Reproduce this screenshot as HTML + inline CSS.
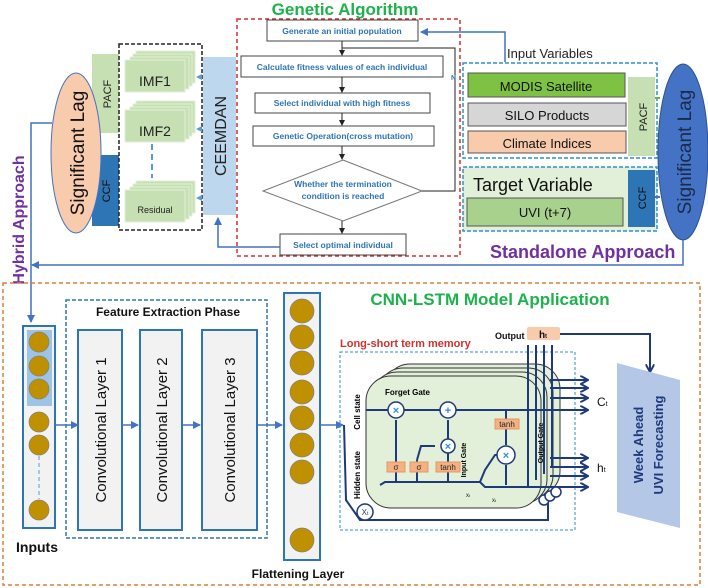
<!DOCTYPE html>
<html><head><meta charset="utf-8"><style>
html,body{margin:0;padding:0;background:#fff;}
svg{display:block;font-family:"Liberation Sans",sans-serif;}
</style></head><body>
<svg width="708" height="588" viewBox="0 0 708 588" xmlns="http://www.w3.org/2000/svg">
<defs>
<marker id="ab" markerWidth="8" markerHeight="8" refX="7" refY="4" orient="auto" markerUnits="userSpaceOnUse"><path d="M0,0 L8,4 L0,8 Z" fill="#4472c4"/></marker>
<marker id="ak" markerWidth="6" markerHeight="6" refX="5" refY="3" orient="auto" markerUnits="userSpaceOnUse"><path d="M0,0 L6,3 L0,6 Z" fill="#222"/></marker>
<marker id="an" markerWidth="9" markerHeight="9" refX="8" refY="4.5" orient="auto" markerUnits="userSpaceOnUse"><path d="M0,0 L8,4.5 L0,9" fill="none" stroke="#1f3a7a" stroke-width="2"/></marker>
</defs>

<!-- ===== TOP ===== -->
<text x="345" y="15" font-size="17" font-weight="bold" fill="#1db24b" text-anchor="middle">Genetic Algorithm</text>
<rect x="237" y="19" width="223" height="237" fill="none" stroke="#d0312d" stroke-width="1.5" stroke-dasharray="4,3"/>

<g font-size="8.5" font-weight="bold" fill="#2e75b6" text-anchor="middle">
<rect x="267" y="20" width="151" height="21" fill="#fff" stroke="#444"/>
<text x="342" y="34">Generate an initial population</text>
<rect x="241" y="56" width="202" height="21" fill="#fff" stroke="#444"/>
<text x="342" y="70">Calculate  fitness values of each individual</text>
<rect x="255" y="93" width="175" height="20" fill="#fff" stroke="#444"/>
<text x="342" y="106">Select  individual with  high fitness</text>
<rect x="253" y="126" width="181" height="20" fill="#fff" stroke="#444"/>
<text x="343" y="139">Genetic Operation(cross mutation)</text>
<polygon points="343,160 422,191 343,221 263,191" fill="#fff" stroke="#777"/>
<text x="343" y="187">Whether the termination</text>
<text x="343" y="199">condition is reached</text>
<rect x="280" y="234" width="126" height="21" fill="#fff" stroke="#444"/>
<text x="343" y="248">Select optimal individual</text>
</g>
<g stroke="#222" stroke-width="1" fill="none">
<line x1="342" y1="41" x2="342" y2="55" marker-end="url(#ak)"/>
<line x1="342" y1="77" x2="342" y2="92" marker-end="url(#ak)"/>
<line x1="342" y1="113" x2="342" y2="125" marker-end="url(#ak)"/>
<line x1="342" y1="146" x2="342" y2="159" marker-end="url(#ak)"/>
<line x1="342" y1="221" x2="342" y2="233" marker-end="url(#ak)"/>
<polyline points="422,191 455,191 455,48 342,48"/>
</g>
<text x="451" y="80" font-size="7" font-weight="bold" fill="#2e75b6">N</text>

<polyline points="505,62 505,32 421,32" fill="none" stroke="#4472c4" stroke-width="1.5" marker-end="url(#ab)"/>
<text x="507" y="58" font-size="13" fill="#222">Input Variables</text>

<rect x="463" y="63" width="194" height="95" fill="none" stroke="#2e8fd6" stroke-width="1.5" stroke-dasharray="4,2"/>
<rect x="468" y="73" width="157" height="24" fill="#7dc242" stroke="#555"/>
<text x="546" y="91" font-size="13" text-anchor="middle" fill="#111">MODIS Satellite</text>
<rect x="468" y="103" width="158" height="23" fill="#d6d6d6" stroke="#555"/>
<text x="547" y="120" font-size="13" text-anchor="middle" fill="#111">SILO Products</text>
<rect x="468" y="131" width="158" height="22" fill="#f8cbad" stroke="#555"/>
<text x="547" y="148" font-size="13" text-anchor="middle" fill="#111">Climate Indices</text>
<rect x="628" y="77" width="27" height="79" fill="#c6e0b4"/>
<text transform="translate(647,117) rotate(-90)" font-size="11" text-anchor="middle" fill="#222">PACF</text>

<rect x="463" y="167" width="194" height="64" fill="#e2f0d9" stroke="#2e8fd6" stroke-width="1.5" stroke-dasharray="4,2"/>
<text x="473" y="191" font-size="18" fill="#111">Target Variable</text>
<rect x="467" y="198" width="156" height="28" fill="#a9d18e" stroke="#555"/>
<text x="545" y="217" font-size="13" text-anchor="middle" fill="#111">UVI (t+7)</text>
<rect x="628" y="170" width="27" height="57" fill="#2e75b6"/>
<text transform="translate(646,198) rotate(-90)" font-size="11" text-anchor="middle" fill="#111">CCF</text>
<line x1="655" y1="98" x2="660" y2="98" stroke="#70ad47" stroke-width="2"/>
<line x1="655" y1="197" x2="660" y2="197" stroke="#4472c4" stroke-width="2"/>

<ellipse cx="683" cy="152" rx="25" ry="88" fill="#4472c4" stroke="#2f528f"/>
<text transform="translate(691,152) rotate(-90)" font-size="19" text-anchor="middle" fill="#1a2a4a">Significant Lag</text>
<text x="490" y="258" font-size="18" font-weight="bold" fill="#7030a0">Standalone Approach</text>
<polyline points="683,240 683,265 32,265" fill="none" stroke="#4472c4" stroke-width="1.5" marker-end="url(#ab)"/>

<text transform="translate(24,220) rotate(-90)" font-size="16" font-weight="bold" fill="#7030a0" text-anchor="middle">Hybrid Approach</text>
<polyline points="52,123 31,123 31,322" fill="none" stroke="#4472c4" stroke-width="1.5" marker-end="url(#ab)"/>
<rect x="92" y="54" width="27" height="79" fill="#c6e0b4"/>
<text transform="translate(111,94) rotate(-90)" font-size="11" text-anchor="middle" fill="#222">PACF</text>
<rect x="92" y="155" width="27" height="71" fill="#2e75b6"/>
<text transform="translate(110,191) rotate(-90)" font-size="11" text-anchor="middle" fill="#111">CCF</text>
<ellipse cx="76" cy="153" rx="25" ry="80" fill="#f8cbad" stroke="#4472c4"/>
<text transform="translate(84,153) rotate(-90)" font-size="19" text-anchor="middle" fill="#111">Significant Lag</text>

<rect x="119" y="44" width="83" height="186" fill="none" stroke="#222" stroke-width="1.5" stroke-dasharray="4,2"/>
<g fill="#c6e0b4" stroke="#e2efd9" stroke-width="1">
<rect x="136" y="51" width="59" height="32"/><rect x="133" y="54" width="59" height="32"/><rect x="130" y="57" width="59" height="32"/><rect x="125" y="60" width="60" height="32"/>
<rect x="136" y="101" width="59" height="32"/><rect x="133" y="104" width="59" height="32"/><rect x="130" y="107" width="59" height="32"/><rect x="125" y="110" width="60" height="32"/>
<rect x="136" y="181" width="59" height="32"/><rect x="133" y="184" width="59" height="32"/><rect x="130" y="187" width="59" height="32"/><rect x="125" y="190" width="60" height="32"/>
</g>
<text x="155" y="86" font-size="14" text-anchor="middle" fill="#222">IMF1</text>
<text x="155" y="136" font-size="14" text-anchor="middle" fill="#222">IMF2</text>
<text x="155" y="213" font-size="9" text-anchor="middle" fill="#222">Residual</text>
<line x1="152" y1="144" x2="152" y2="178" stroke="#5b9bd5" stroke-width="2" stroke-dasharray="6,4"/>

<rect x="203" y="57" width="33" height="158" fill="#bdd7ee"/>
<text transform="translate(226,136) rotate(-90)" font-size="16" text-anchor="middle" fill="#222">CEEMDAN</text>
<g fill="#5b9bd5"><path d="M196,77 l6,-3 v6z"/><path d="M196,129 l6,-3 v6z"/><path d="M196,198 l6,-3 v6z"/></g>
<polyline points="280,247 218,247 218,218" fill="none" stroke="#4472c4" stroke-width="1.5" marker-end="url(#ab)"/>

<!-- ===== BOTTOM ===== -->
<rect x="3" y="283" width="697" height="302" fill="none" stroke="#e07b39" stroke-width="1.5" stroke-dasharray="4,3"/>
<text x="490" y="305" font-size="17" font-weight="bold" fill="#1db24b" text-anchor="middle">CNN-LSTM Model Application</text>

<rect x="23" y="326" width="32" height="202" fill="#f2f2f2" stroke="#2e75b6" stroke-width="2"/>
<rect x="27" y="330" width="25" height="76" fill="#9dc3e6"/>
<g fill="#bf9000" stroke="#7f7f7f" stroke-width="0.7">
<circle cx="39" cy="342" r="10"/><circle cx="39" cy="366" r="10"/><circle cx="39" cy="389" r="10"/><circle cx="39" cy="422" r="10"/><circle cx="39" cy="445" r="10"/><circle cx="39" cy="510" r="10"/>
</g>
<line x1="39" y1="456" x2="39" y2="499" stroke="#5b9bd5" stroke-dasharray="4,3"/>
<text x="37" y="552" font-size="14" font-weight="bold" text-anchor="middle" fill="#111">Inputs</text>

<rect x="66" y="300" width="201" height="238" fill="none" stroke="#2e75b6" stroke-width="1.5" stroke-dasharray="4,2"/>
<text x="168" y="316" font-size="12" font-weight="bold" text-anchor="middle" fill="#111">Feature Extraction Phase</text>
<g fill="#f2f2f2" stroke="#2e75b6" stroke-width="2">
<rect x="78" y="330" width="44" height="200"/><rect x="140" y="330" width="42" height="200"/><rect x="202" y="330" width="55" height="200"/>
</g>
<g font-size="15" text-anchor="middle" fill="#111">
<text transform="translate(106,430) rotate(-90)">Convolutional Layer 1</text>
<text transform="translate(167,430) rotate(-90)">Convolutional Layer 2</text>
<text transform="translate(235,430) rotate(-90)">Convolutional Layer 3</text>
</g>

<rect x="284" y="293" width="36" height="267" fill="#f2f2f2" stroke="#2e75b6" stroke-width="2"/>
<g fill="#bf9000" stroke="#7f7f7f" stroke-width="0.7">
<circle cx="302" cy="311" r="12"/><circle cx="302" cy="337" r="12"/><circle cx="302" cy="363" r="12"/><circle cx="302" cy="392" r="12"/><circle cx="302" cy="418" r="12"/><circle cx="302" cy="445" r="12"/><circle cx="302" cy="472" r="12"/><circle cx="302" cy="540" r="12"/>
</g>
<text x="298" y="578" font-size="12" font-weight="bold" text-anchor="middle" fill="#111">Flattening Layer</text>

<g stroke="#4472c4" stroke-width="1.5" fill="none">
<line x1="55" y1="425" x2="78" y2="425" marker-end="url(#ab)"/>
<line x1="122" y1="425" x2="138" y2="425" marker-end="url(#ab)"/>
<line x1="182" y1="425" x2="200" y2="425" marker-end="url(#ab)"/>
<line x1="258" y1="425" x2="282" y2="425" marker-end="url(#ab)"/>
<line x1="320" y1="425" x2="343" y2="425" marker-end="url(#ab)"/>
</g>

<text x="340" y="347" font-size="11" font-weight="bold" fill="#d0312d">Long-short term memory</text>
<rect x="340" y="352" width="235" height="178" fill="none" stroke="#2e8fd6" stroke-width="1" stroke-dasharray="3,2"/>
<g fill="#e2efd9" stroke="#333" stroke-width="1">
<rect x="385" y="364" width="175" height="132" rx="25"/>
<rect x="378" y="368" width="175" height="132" rx="25"/>
<rect x="372" y="372" width="175" height="132" rx="25"/>
<rect x="366" y="376" width="175" height="132" rx="25"/>
</g>
<text transform="translate(360,412) rotate(-90)" font-size="8" font-weight="bold" text-anchor="middle">Cell state</text>
<text transform="translate(360,475) rotate(-90)" font-size="8" font-weight="bold" text-anchor="middle">Hidden state</text>
<g stroke="#1f3a7a" stroke-width="2" fill="none">
<line x1="366" y1="410" x2="550" y2="410"/>
<polyline points="380,485 385,482 480,482 485,487 550,487"/>
<line x1="396" y1="482" x2="396" y2="420"/>
<line x1="417" y1="482" x2="417" y2="460" /><polyline points="417,460 421,446 435,446"/>
<line x1="448" y1="482" x2="448" y2="452"/><line x1="448" y1="440" x2="448" y2="420"/>
<polyline points="480,482 485,470 495,455 505,455"/>
<line x1="506" y1="410" x2="506" y2="445"/>
<polyline points="506,465 506,485"/>
<line x1="528" y1="487" x2="528" y2="345"/><line x1="536" y1="480" x2="536" y2="345"/><line x1="544" y1="474" x2="544" y2="345"/><line x1="552" y1="468" x2="552" y2="345"/>
<polyline points="344,425 346,500 360,520 548,520 548,500"/>
</g>
<g stroke="#1f3a7a" stroke-width="2" fill="none" marker-end="url(#an)">
<line x1="550" y1="380" x2="588" y2="380"/><line x1="550" y1="388" x2="588" y2="388"/><line x1="550" y1="398" x2="588" y2="398"/><line x1="550" y1="410" x2="588" y2="410"/>
<line x1="550" y1="458" x2="588" y2="458"/><line x1="550" y1="467" x2="588" y2="467"/><line x1="550" y1="476" x2="588" y2="476"/><line x1="550" y1="487" x2="588" y2="487"/>
</g>
<g fill="#fff" stroke="#1f3a7a" stroke-width="1.5">
<circle cx="396" cy="410" r="8"/><circle cx="448" cy="410" r="8"/><circle cx="448" cy="446" r="7"/><circle cx="506" cy="455" r="9"/>
<circle cx="365" cy="512" r="8"/>
<circle cx="544" cy="500" r="5"/><circle cx="550" cy="496" r="5"/><circle cx="556" cy="492" r="5"/>
</g>
<g font-size="11" font-weight="bold" fill="#2e8fd6" text-anchor="middle">
<text x="396" y="414">×</text><text x="448" y="414">+</text><text x="448" y="450">×</text><text x="506" y="459">×</text>
</g>
<text x="365" y="515" font-size="8" text-anchor="middle" fill="#1f3a7a">X<tspan font-size="5">t</tspan></text>
<text x="385" y="395" font-size="8" font-weight="bold">Forget Gate</text>
<text transform="translate(466,460) rotate(-90)" font-size="7" font-weight="bold" text-anchor="middle">Input Gate</text>
<text transform="translate(543,443) rotate(-90)" font-size="7" font-weight="bold" text-anchor="middle">Output Gate</text>
<g fill="#f4b183" stroke="#e59866">
<rect x="387" y="462" width="18" height="10"/><rect x="410" y="462" width="18" height="10"/><rect x="436" y="462" width="24" height="10"/><rect x="495" y="419" width="24" height="10"/>
</g>
<g font-size="8" text-anchor="middle" fill="#222">
<text x="396" y="470">σ</text><text x="419" y="470">σ</text><text x="448" y="470">tanh</text><text x="507" y="427">tanh</text>
<text x="468" y="497" font-size="6">x<tspan font-size="4">t</tspan></text><text x="494" y="502" font-size="6">x<tspan font-size="4">t</tspan></text>
</g>
<text x="597" y="406" font-size="12" fill="#111">C<tspan font-size="7">t</tspan></text>
<text x="597" y="472" font-size="12" fill="#111">h<tspan font-size="7">t</tspan></text>

<text x="495" y="339" font-size="9" font-weight="bold" fill="#111">Output</text>
<rect x="527" y="327" width="33" height="13" rx="2" fill="#f8cbad"/>
<text x="543" y="338" font-size="10" font-weight="bold" text-anchor="middle" fill="#111">h<tspan font-size="6">t</tspan></text>
<polyline points="560,334 650,334 650,372" fill="none" stroke="#1f3a7a" stroke-width="2" marker-end="url(#an)"/>

<polygon points="617,363 680,380 680,528 617,512" fill="#b4c7e7"/>
<text transform="translate(643,445) rotate(-90)" font-size="13" font-weight="bold" text-anchor="middle" fill="#1f3a7a">Week Ahead</text>
<text transform="translate(663,445) rotate(-90)" font-size="13" font-weight="bold" text-anchor="middle" fill="#1f3a7a">UVI Forecasting</text>
</svg>
</body></html>
